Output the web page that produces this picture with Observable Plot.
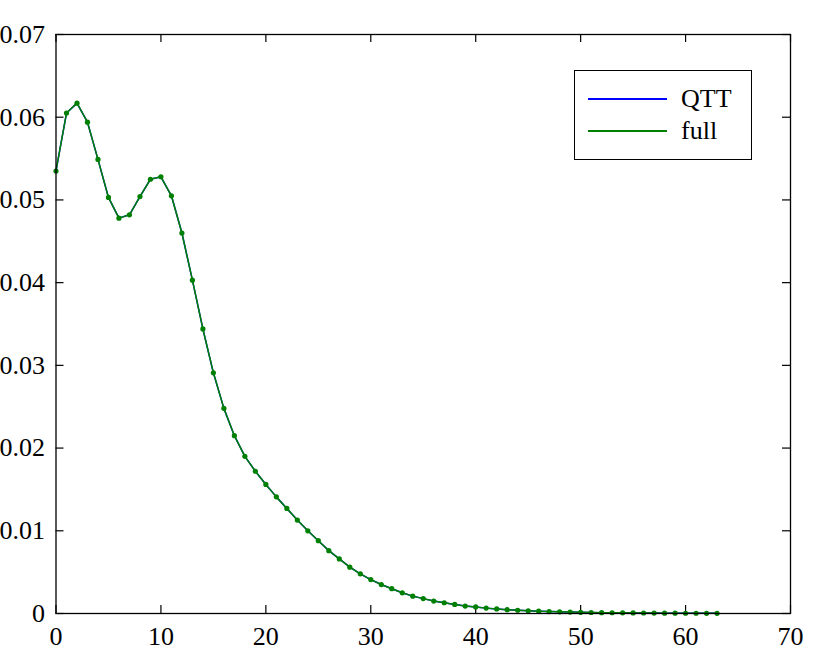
<!DOCTYPE html>
<html>
<head>
<meta charset="utf-8">
<script src="https://cdn.jsdelivr.net/npm/d3@7"></script>
<script src="https://cdn.jsdelivr.net/npm/@observablehq/plot@0.6"></script>
<style>
  html, body { margin: 0; padding: 0; background: #fff; }
  #wrap { position: relative; width: 830px; height: 656px; font-family: "Liberation Serif", "DejaVu Serif", serif; }
  #legend { position: absolute; left: 574px; top: 70px; width: 176px; height: 88px; border: 1.5px solid #000; background: #fff; box-sizing: content-box; }
  .row { position: absolute; left: 13px; height: 26px; display: flex; align-items: center; font-size: 26px; color: #000; }
  .sw { width: 79px; height: 0; border-top: 2px solid; margin-right: 14px; }
</style>
</head>
<body>
<div id="wrap"></div>
<script>
const xValues = [0,1,2,3,4,5,6,7,8,9,10,11,12,13,14,15,16,17,18,19,20,21,22,23,24,25,26,27,28,29,30,31,32,33,34,35,36,37,38,39,40,41,42,43,44,45,46,47,48,49,50,51,52,53,54,55,56,57,58,59,60,61,62,63];
const fullValues = [0.0535,0.0605,0.0617,0.0594,0.0549,0.0503,0.0478,0.0482,0.0504,0.0525,0.0528,0.0505,0.0460,0.0403,0.0344,0.0291,0.0248,0.0215,0.0190,0.0172,0.0156,0.0141,0.0127,0.0113,0.0100,0.0088,0.0076,0.0066,0.0056,0.0048,0.0041,0.0035,0.0030,0.0025,0.0021,0.0018,0.0015,0.0013,0.0011,0.0009,0.0008,0.00065,0.00055,0.00046,0.00039,0.00033,0.00028,0.00023,0.0002,0.00017,0.00014,0.00012,0.0001,0.00009,0.00008,0.00007,0.00006,0.00005,0.00004,0.00004,0.00003,0.00003,0.00002,0.00002];
const qttValues = [0.0535,0.0605,0.0617,0.0594,0.0549,0.0503,0.0478,0.0482,0.0504,0.0525,0.0528,0.0505,0.0460,0.0403,0.0344,0.0291,0.0248,0.0215,0.0190,0.0172,0.0156,0.0141,0.0127,0.0113,0.0100,0.0088,0.0076,0.0066,0.0056,0.0048,0.0041,0.0035,0.0030,0.0025,0.0021,0.0018,0.0015,0.0013,0.0011,0.0009,0.0008,0.00065,0.00055,0.00046,0.00039,0.00033,0.00028,0.00023,0.0002,0.00017,0.00014,0.00012,0.0001,0.00009,0.00008,0.00007,0.00006,0.00005,0.00004,0.00004,0.00003,0.00003,0.00002,0.00002];
const xTicks = [0,10,20,30,40,50,60,70];
const yTicks = [0,0.01,0.02,0.03,0.04,0.05,0.06,0.07];
const yTickLabels = ["0","0.01","0.02","0.03","0.04","0.05","0.06","0.07"];
const seriesNames = ["QTT","full"];
const seriesColors = ["#0000ff","#008000"];

const full = xValues.map((x, i) => ({x, y: fullValues[i]}));
const qtt = xValues.map((x, i) => ({x, y: qttValues[i]}));

const W = 830, H = 656, mL = 55.5, mR = 40, mT = 34, mB = 43;
const innerW = W - mL - mR, innerH = H - mT - mB;
const tickLen = 8;

const chart = Plot.plot({
  width: W, height: H,
  marginLeft: mL, marginRight: mR, marginTop: mT, marginBottom: mB,
  style: {fontFamily: '"Liberation Serif", "DejaVu Serif", serif', fontSize: "26px", color: "#000", background: "#fff"},
  x: {domain: [0, 70]},
  y: {domain: [0, 0.07]},
  marks: [
    Plot.axisX({ticks: xTicks, tickSize: 0, tickPadding: 13, label: null, fontSize: 26, tickFormat: d => String(d)}),
    Plot.axisY({ticks: yTicks, tickSize: 0, tickPadding: 11, label: null, fontSize: 26, tickFormat: d => yTickLabels[yTicks.indexOf(d)]}),
    // inward ticks on all four sides
    Plot.tickX(xTicks, {x: d => d, insetTop: innerH - tickLen, stroke: "#000", strokeWidth: 1.2}),
    Plot.tickX(xTicks, {x: d => d, insetBottom: innerH - tickLen, stroke: "#000", strokeWidth: 1.2}),
    Plot.tickY(yTicks, {y: d => d, insetRight: innerW - tickLen, stroke: "#000", strokeWidth: 1.2}),
    Plot.tickY(yTicks, {y: d => d, insetLeft: innerW - tickLen, stroke: "#000", strokeWidth: 1.2}),
    Plot.line(qtt, {x: "x", y: "y", stroke: seriesColors[0], strokeWidth: 1.5}),
    Plot.line(full, {x: "x", y: "y", stroke: seriesColors[1], strokeWidth: 1.5}),
    Plot.dot(full, {x: "x", y: "y", r: 2.6, fill: seriesColors[1], stroke: "none"}),
    Plot.frame({stroke: "#000", strokeWidth: 1.3})
  ]
});
const wrap = document.getElementById("wrap");
wrap.appendChild(chart);

const legend = document.createElement("div");
legend.id = "legend";
seriesNames.forEach((name, i) => {
  const row = document.createElement("div");
  row.className = "row";
  row.style.top = (i === 0 ? 15 : 47) + "px";
  const sw = document.createElement("div");
  sw.className = "sw";
  sw.style.borderTopColor = seriesColors[i];
  const t = document.createElement("span");
  t.textContent = name;
  row.appendChild(sw);
  row.appendChild(t);
  legend.appendChild(row);
});
wrap.appendChild(legend);
</script>
</body>
</html>
